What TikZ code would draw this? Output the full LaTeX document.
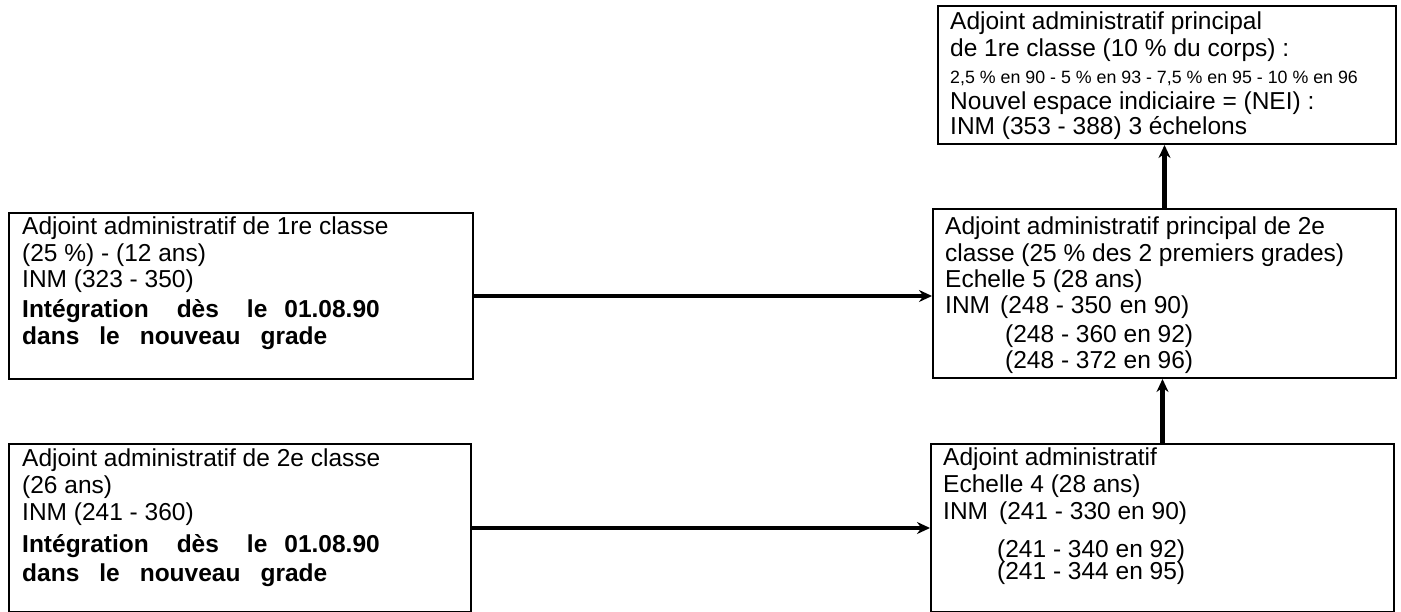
\documentclass[tikz,border=0pt]{standalone}
\usepackage{fontspec}
\setmainfont{Liberation Sans}
\usetikzlibrary{arrows.meta}
\begin{document}
\begin{tikzpicture}[x=1pt,y=-1pt,
  box/.style={draw, line width=2pt, inner sep=0pt, anchor=north west},
  ln/.style={anchor=base west, inner sep=0pt, font=\fontsize{24.5}{26}\selectfont},
  bl/.style={anchor=base west, inner sep=0pt, font=\fontsize{24.5}{26}\selectfont\bfseries},
  sm/.style={anchor=base west, inner sep=0pt, font=\fontsize{17.8}{19}\selectfont},
  conn/.style={line width=4pt, -{Stealth[length=13pt,width=12pt]}},
]
\useasboundingbox (0,0) rectangle (1401,612);

% boxes
\node[box, minimum width=464pt, minimum height=166pt] (a1) at (8,212) {};
\node[box, minimum width=462pt, minimum height=168pt] (a2) at (8,443) {};
\node[box, minimum width=463pt, minimum height=169pt] (b2) at (932,208) {};
\node[box, minimum width=463pt, minimum height=168pt] (b1) at (930,443) {};
\node[box, minimum width=458pt, minimum height=138pt] (c) at (937,5) {};

% connectors
\draw[conn] (a1.east) -- (a1.east -| b2.west);
\draw[conn] (a2.east) -- (a2.east -| b1.west);
\draw[conn, line width=5pt] (b1.north) -- (b1.north |- b2.south);
\draw[conn, line width=5pt] (b2.north) -- (b2.north |- c.south);

% texts left top
\node[ln] (a1l1) at (22,235) {Adjoint administratif de 1re classe};
\node[ln] (a1l2) at (22,262) {(25 \%) - (12 ans)};
\node[ln] (a1l3) at (22,288) {INM (323 - 350)};
\node[bl] (a1l4) at (22,318) {Intégration\hspace{28pt}dès\hspace{28pt}le\hspace{17pt}01.08.90};
\node[bl] (a1l5) at (22,345) {dans\hspace{20pt}le\hspace{20pt}nouveau\hspace{20pt}grade};

% texts left bottom
\node[ln] (a2l1) at (22,466) {Adjoint administratif de 2e classe};
\node[ln] (a2l2) at (22,493) {(26 ans)};
\node[ln] (a2l3) at (22,520) {INM (241 - 360)};
\node[bl] (a2l4) at (22,552) {Intégration\hspace{28pt}dès\hspace{28pt}le\hspace{17pt}01.08.90};
\node[bl] (a2l5) at (22,581) {dans\hspace{20pt}le\hspace{20pt}nouveau\hspace{20pt}grade};

% texts right middle
\node[ln] (b2l1) at (945,235) {Adjoint administratif principal de 2e};
\node[ln] (b2l2) at (945,262) {classe (25 \% des 2 premiers grades)};
\node[ln] (b2l3) at (945,288) {Echelle 5 (28 ans)};
\node[ln] (b2l4) at (945,314) {INM\hspace{10pt}(248 - 350\hspace{8pt}en 90)};
\node[ln] (b2l5) at (1005,343) {(248 - 360 en 92)};
\node[ln] (b2l6) at (1005,369) {(248 - 372 en 96)};

% texts right bottom
\node[ln] (b1l1) at (943,465) {Adjoint administratif};
\node[ln] (b1l2) at (943,492) {Echelle 4 (28 ans)};
\node[ln] (b1l3) at (943,519) {INM\hspace{11pt}(241 - 330 en 90)};
\node[ln] (b1l4) at (997,557) {(241 - 340 en 92)};
\node[ln] (b1l5) at (997,579) {(241 - 344 en 95)};

% texts top
\node[ln] (cl1) at (950,30) {Adjoint administratif principal};
\node[ln] (cl2) at (950,57) {de 1re classe (10 \% du corps) :};
\node[sm] (cl3) at (950,84) {2,5 \% en 90 - 5 \% en 93 - 7,5 \% en 95 - 10 \% en 96};
\node[ln] (cl4) at (950,110) {Nouvel espace indiciaire = (NEI) :};
\node[ln] (cl5) at (950,135) {INM (353 - 388) 3 échelons};
\end{tikzpicture}
\end{document}
